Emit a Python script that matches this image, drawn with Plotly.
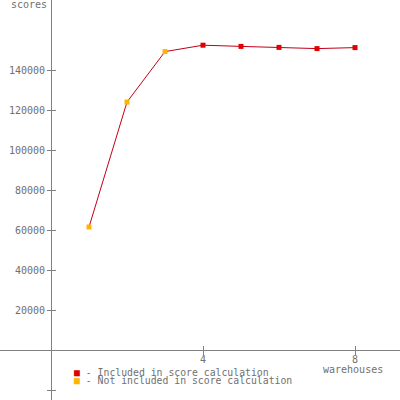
import plotly.graph_objects as go

warehouses = [1, 2, 3, 4, 5, 6, 7, 8]
scores = [61500, 124000, 149200, 152400, 151800, 151300, 150700, 151200]
included = [False, False, False, True, True, True, True, True]

y_ticks = [-20000, 0, 20000, 40000, 60000, 80000, 100000, 120000, 140000]
y_ticktext = ["", "", "20000", "40000", "60000", "80000", "100000", "120000", "140000"]
x_ticks = [4, 8]
x_ticktext = ["4", "8"]

FONT = "DejaVu Sans Mono"
AXIS_COLOR = "#808080"
TEXT_COLOR = "#707070"
RED = "#e00000"
ORANGE = "#ffb400"
LINE = "#c00018"

fig = go.Figure()
fig.add_trace(go.Scatter(x=warehouses, y=scores, mode="lines",
                         line=dict(color=LINE, width=1), showlegend=False, hoverinfo="skip"))
xi = [w for w, inc in zip(warehouses, included) if inc]
yi = [s for s, inc in zip(scores, included) if inc]
xn = [w for w, inc in zip(warehouses, included) if not inc]
yn = [s for s, inc in zip(scores, included) if not inc]
fig.add_trace(go.Scatter(x=xn, y=yn, mode="markers",
                         marker=dict(symbol="square", size=5, color=ORANGE), showlegend=False))
fig.add_trace(go.Scatter(x=xi, y=yi, mode="markers",
                         marker=dict(symbol="square", size=5, color=RED), showlegend=False))

xr = [-51 / 38, (400 - 51) / 38]
yr = [-25000, 175000]

common = dict(showgrid=False, zeroline=False, showline=True, linecolor=AXIS_COLOR, linewidth=1,
              tickcolor=AXIS_COLOR, ticklen=4, tickwidth=1, automargin=False,
              tickfont=dict(family=FONT, size=10, color=TEXT_COLOR))

fig.update_layout(
    width=400, height=400, margin=dict(l=0, r=0, t=0, b=0, pad=0, autoexpand=False),
    paper_bgcolor="white", plot_bgcolor="white", showlegend=False,
    xaxis=dict(range=xr, domain=[0, 1], anchor="free", position=0.125,
               tickvals=x_ticks, ticktext=x_ticktext, ticks="outside",
               ticklabelstandoff=-4, **common),
    xaxis2=dict(range=xr, domain=[0, 1], anchor="free", position=0.125, overlaying="x",
                tickvals=x_ticks, ticktext=["", ""], ticks="inside", **common),
    yaxis=dict(range=yr, domain=[0, 1], anchor="free", position=51 / 400,
               tickvals=y_ticks, ticktext=y_ticktext, ticks="outside", **common),
    yaxis2=dict(range=yr, domain=[0, 1], anchor="free", position=51 / 400, overlaying="y",
                tickvals=y_ticks, ticktext=[""] * len(y_ticks), ticks="inside", **common),
)
fig.add_trace(go.Scatter(x=[None], y=[None], xaxis="x2", yaxis="y2", showlegend=False))

ann_font = dict(family=FONT, size=10, color=TEXT_COLOR)
leg_font = dict(family=FONT, size=9.8, color=TEXT_COLOR)
fig.add_annotation(text="scores", xref="paper", yref="paper", x=49 / 400, y=1 + 3 / 400,
                   xanchor="right", yanchor="top", showarrow=False, font=ann_font)
fig.add_annotation(text="warehouses", xref="paper", yref="paper", x=353 / 400, y=1 - 362 / 400,
                   xanchor="center", yanchor="top", showarrow=False, font=ann_font)
fig.add_annotation(text=f"<span style='color:{RED}'>■</span> - Included in score calculation",
                   xref="paper", yref="paper", x=72 / 400, y=1 - 365 / 400,
                   xanchor="left", yanchor="top", showarrow=False, font=leg_font)
fig.add_annotation(text=f"<span style='color:{ORANGE}'>■</span> - Not included in score calculation",
                   xref="paper", yref="paper", x=72 / 400, y=1 - 373 / 400,
                   xanchor="left", yanchor="top", showarrow=False, font=leg_font)

fig.write_html("out.html", config={"displayModeBar": False},
               post_script="document.body.style.margin='0';document.body.style.padding='0';")
